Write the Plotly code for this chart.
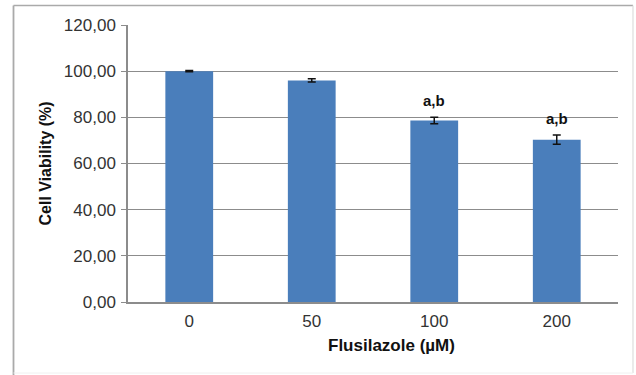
import plotly.graph_objects as go

# Cell viability after flusilazole exposure
concentrations = ["0", "50", "100", "200"]
viability = [100.0, 96.0, 78.6, 70.3]
sem = [0.3, 0.7, 1.4, 2.0]
significance = ["", "", "a,b", "a,b"]

W, H = 636, 375
L, R, T, B = 128, 18, 25, 73
pw, ph = W - L - R, H - T - B

def px_x(px):
    return (px - L) / pw

def px_y(py):
    return (H - B - py) / ph

font = "Liberation Sans, Arial, sans-serif"

fig = go.Figure()
fig.add_trace(go.Bar(
    x=concentrations,
    y=viability,
    marker=dict(color="#4A7EBB", line=dict(width=0)),
    error_y=dict(type="data", array=sem, visible=True, color="#111111",
                 thickness=1.5, width=4),
    width=0.39,
    showlegend=False,
))

# significance letters above the error bars (category index positions)
for i, (v, e, s) in enumerate(zip(viability, sem, significance)):
    if s:
        fig.add_annotation(x=i, y=v + e, text="<b>%s</b>" % s, showarrow=False,
                           yanchor="bottom", yshift=6,
                           font=dict(family=font, size=15, color="#111111"))

fig.add_annotation(xref="paper", yref="paper", x=px_x(391), y=px_y(345),
                   text="<b>Flusilazole (µM)</b>", showarrow=False,
                   xanchor="center", yanchor="middle",
                   font=dict(family=font, size=17, color="#111111"))

fig.add_annotation(xref="paper", yref="paper", x=px_x(45), y=px_y(163.5),
                   text="<b>Cell Viability (%)</b>", showarrow=False,
                   textangle=-90, xanchor="center", yanchor="middle",
                   font=dict(family=font, size=16, color="#111111"))

# outer chart frame: darker left/top edges, faint right/bottom edges
frame = [
    (13.5, 5.5, 13.5, 375, "#AAAAAA", 1.8),
    (13.5, 5.5, 633, 5.5, "#AAAAAA", 1.5),
    (633, 5.5, 633, 373, "#DDDDDD", 1.2),
    (13.5, 373, 633, 373, "#F0F0F0", 1.0),
]
for x0, y0, x1, y1, col, w in frame:
    fig.add_shape(type="line", xref="paper", yref="paper",
                  x0=px_x(x0), y0=px_y(y0), x1=px_x(x1), y1=px_y(y1),
                  line=dict(color=col, width=w), layer="below")

fig.update_layout(
    width=W, height=H,
    margin=dict(l=L, r=R, t=T, b=B),
    paper_bgcolor="white", plot_bgcolor="white",
    font=dict(family=font, size=17, color="#333333"),
    bargap=0.61,
    xaxis=dict(type="category", range=[-0.5, 3.5], showline=True,
               linecolor="#8C8C8C", linewidth=1.5,
               showgrid=False, ticks="", tickfont=dict(size=17),
               ticklabelstandoff=3),
    yaxis=dict(range=[0, 120], dtick=20, tickformat=".2f",
               showline=True, linecolor="#8C8C8C", linewidth=1.5,
               showgrid=True, gridcolor="#8C8C8C", gridwidth=1.2,
               ticks="outside", ticklen=5, tickcolor="#8C8C8C",
               tickfont=dict(size=17), zeroline=False,
               ticklabelstandoff=2),
    separators=", ",
)

fig.write_html("out.html")
